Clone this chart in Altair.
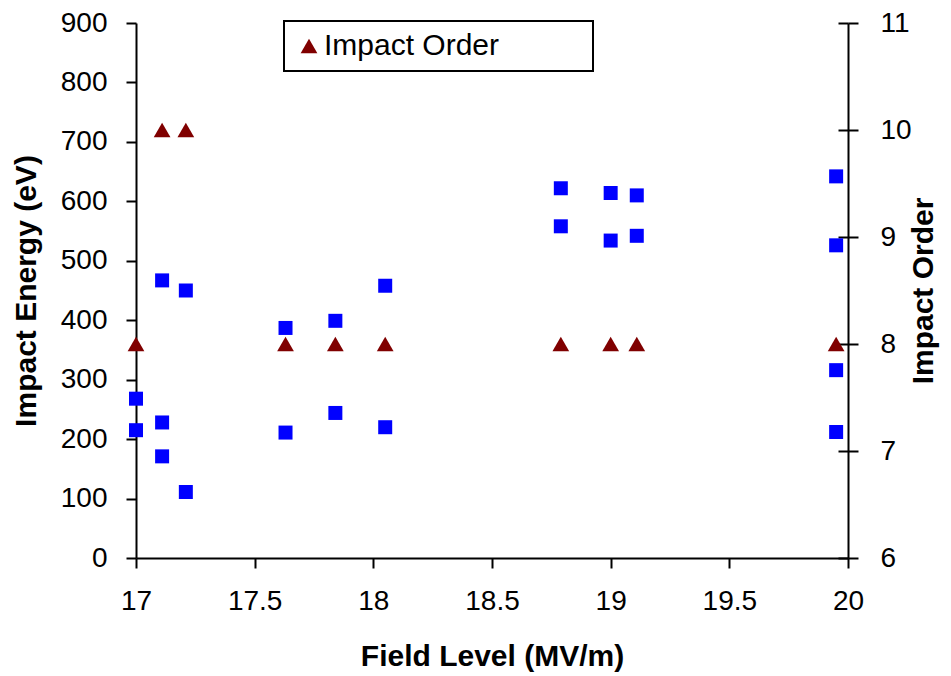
import altair as alt
import pandas as pd

# Impact energy (left axis, blue squares)
field_energy = [17.0, 17.0, 17.11, 17.11, 17.11, 17.21, 17.21, 17.63, 17.63,
                17.84, 17.84, 18.05, 18.05, 18.79, 18.79, 19.0, 19.0,
                19.11, 19.11, 19.95, 19.95, 19.95, 19.95]
energy = [268, 215, 467, 228, 171, 450, 111, 387, 211,
          399, 244, 458, 220, 622, 558, 614, 534,
          610, 542, 642, 526, 316, 212]

# Impact order (right axis, dark red triangles)
field_order = [17.0, 17.11, 17.21, 17.63, 17.84, 18.05, 18.79, 19.0, 19.11, 19.95]
order = [8, 10, 10, 8, 8, 8, 8, 8, 8, 8]

x_ticks = [17, 17.5, 18, 18.5, 19, 19.5, 20]
energy_ticks = [0, 100, 200, 300, 400, 500, 600, 700, 800, 900]
order_ticks = [6, 7, 8, 9, 10, 11]

energy_df = pd.DataFrame({"field": field_energy, "energy": energy})
order_df = pd.DataFrame({"field": field_order, "order": order,
                         "series": ["Impact Order"] * len(order)})

REG = "Liberation Sans"
BOLD = "Liberation Sans"
PLOT_W = 712
PLOT_H = 535

common_axis = dict(domainColor="black", domainWidth=2, tickColor="black",
                   tickWidth=2, tickSize=10, grid=False, labelFont=REG,
                   labelFontSize=28, labelColor="black", labelFlush=False,
                   labelOverlap=False, titleFont=BOLD, titleFontSize=30,
                   titleFontWeight="bold", titleColor="black")

x_enc = alt.X("field:Q",
              scale=alt.Scale(domain=[17, 20], nice=False, zero=False),
              axis=alt.Axis(values=x_ticks, format="~g",
                            title="Field Level (MV/m)", labelPadding=19,
                            titlePadding=26, **common_axis))

order_scale = alt.Scale(domain=[6, 11], nice=False, zero=False)

squares = alt.Chart(energy_df).mark_point(
    shape="square", filled=True, size=196, color="#0000ff", opacity=1
).encode(
    x=x_enc,
    y=alt.Y("energy:Q", scale=alt.Scale(domain=[0, 900], nice=False),
            axis=alt.Axis(values=energy_ticks, orient="left",
                          title="Impact Energy (eV)", labelPadding=19,
                          titlePadding=19, **common_axis)),
)

pad_label = "datum.label + '\u00a0\u00a0\u00a0\u00a0\u00a0\u00a0\u00a0\u00a0\u00a0\u00a0\u200b'"

triangles = alt.Chart(order_df).mark_point(
    shape="triangle-up", filled=True, size=280, opacity=1
).encode(
    x=x_enc,
    y=alt.Y("order:Q", scale=order_scale,
            axis=alt.Axis(values=order_ticks, orient="right",
                          title="Impact Order", titleAngle=270,
                          labelPadding=22, titlePadding=27, **common_axis)),
    color=alt.Color("series:N",
                    scale=alt.Scale(domain=["Impact Order"], range=["#800000"]),
                    legend=alt.Legend(title=None, orient="none",
                                      legendX=148, legendY=-2,
                                      symbolType="triangle-up", symbolSize=280,
                                      symbolFillColor="#800000",
                                      labelFont=REG, labelFontSize=30,
                                      labelColor="black", labelOffset=0,
                                      labelLimit=600,
                                      padding=10, strokeColor="black",
                                      labelExpr=pad_label)),
)

# inner half of the right-axis ticks (they cross the axis line in the reference)
inner_ticks = alt.Chart(order_df).mark_point(opacity=0).encode(
    x=x_enc,
    y=alt.Y("order:Q", scale=order_scale,
            axis=alt.Axis(values=order_ticks, orient="left", offset=-PLOT_W,
                          labels=False, domain=False, title=None, grid=False,
                          ticks=True, tickSize=10, tickWidth=2,
                          tickColor="black")),
)

chart = alt.layer(squares, triangles, inner_ticks).resolve_scale(
    y="independent"
).properties(
    width=PLOT_W, height=PLOT_H,
    autosize=alt.AutoSizeParams(type="none"),
    padding={"left": 128, "top": 15, "right": 94, "bottom": 115},
).configure_view(stroke=None).configure_legend(strokeWidth=2)

chart.save("out.html", embed_options={"renderer": "svg", "actions": False})
